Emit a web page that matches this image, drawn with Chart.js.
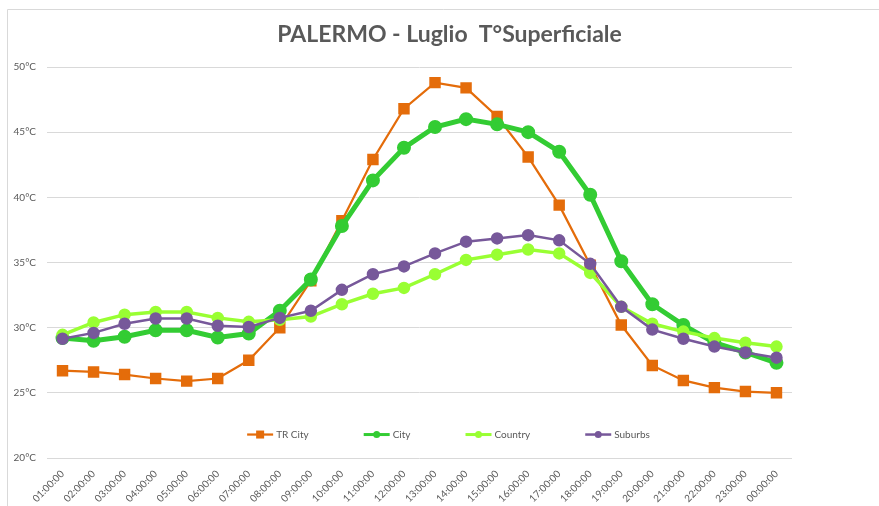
<!DOCTYPE html>
<html>
<head>
<meta charset="utf-8">
<script src="https://cdn.jsdelivr.net/npm/chart.js@4"></script>
<style>
  body { margin: 0; background: #fff; }
</style>
</head>
<body>
<canvas id="myChart" width="879" height="506"></canvas>
<script>
// ore del giorno
const ore = ['01:00:00','02:00:00','03:00:00','04:00:00','05:00:00','06:00:00','07:00:00','08:00:00',
  '09:00:00','10:00:00','11:00:00','12:00:00','13:00:00','14:00:00','15:00:00','16:00:00',
  '17:00:00','18:00:00','19:00:00','20:00:00','21:00:00','22:00:00','23:00:00','00:00:00'];

const trCity = [26.7, 26.6, 26.4, 26.1, 25.9, 26.1, 27.5, 30.0, 33.6, 38.2, 42.9, 46.8,
  48.8, 48.4, 46.2, 43.1, 39.4, 34.8, 30.2, 27.1, 25.95, 25.4, 25.1, 25.0];
const city = [29.2, 29.0, 29.3, 29.8, 29.8, 29.25, 29.55, 31.3, 33.7, 37.8, 41.3, 43.8,
  45.4, 46.0, 45.6, 45.0, 43.5, 40.2, 35.1, 31.8, 30.2, 28.85, 28.1, 27.3];
const country = [29.45, 30.4, 31.0, 31.2, 31.2, 30.75, 30.45, 30.6, 30.85, 31.8, 32.6, 33.05,
  34.1, 35.2, 35.6, 36.0, 35.7, 34.2, 31.6, 30.3, 29.7, 29.2, 28.85, 28.55];
const suburbs = [29.15, 29.6, 30.3, 30.7, 30.7, 30.15, 30.05, 30.75, 31.3, 32.9, 34.1, 34.7,
  35.7, 36.6, 36.85, 37.1, 36.7, 34.9, 31.6, 29.85, 29.15, 28.55, 28.1, 27.7];

const yTicks = [20, 25, 30, 35, 40, 45, 50];

const titolo = 'PALERMO - Luglio  T°Superficiale';
const grigio = '#595959';

// titolo centrato sulla cornice intera
const titoloPlugin = {
  id: 'titoloPlugin',
  afterDraw(chart) {
    const ctx = chart.ctx;
    ctx.save();
    ctx.font = 'bold 23px Lato';
    ctx.fillStyle = grigio;
    ctx.textAlign = 'center';
    ctx.textBaseline = 'middle';
    ctx.fillText(titolo, chart.width / 2 + 10, 35);
    ctx.restore();
  }
};

// legenda disegnata dentro l'area del grafico, come in Excel
const legendaSotto = {
  id: 'legendaSotto',
  afterDraw(chart) {
    const ctx = chart.ctx;
    const sets = chart.data.datasets;
    const y = chart.scales.y.getPixelForValue(21.8);
    ctx.save();
    ctx.font = '10px Lato';
    ctx.textBaseline = 'middle';
    const gap = 55, lineLen = 26;
    let total = 0;
    sets.forEach(ds => { total += lineLen + 3 + ctx.measureText(ds.label).width + gap; });
    total -= gap;
    let x = chart.width / 2 + 9 - total / 2;
    sets.forEach(ds => {
      ctx.strokeStyle = ds.borderColor;
      ctx.lineWidth = Math.min(ds.borderWidth, 3);
      ctx.beginPath();
      ctx.moveTo(x, y);
      ctx.lineTo(x + lineLen, y);
      ctx.stroke();
      ctx.fillStyle = ds.borderColor;
      const cx = x + lineLen / 2;
      if (ds.pointStyle === 'rect') {
        ctx.fillRect(cx - 4, y - 4, 8, 8);
      } else {
        ctx.beginPath();
        ctx.arc(cx, y, 3.5, 0, Math.PI * 2);
        ctx.fill();
      }
      ctx.fillStyle = grigio;
      ctx.fillText(ds.label, x + lineLen + 3, y);
      x += lineLen + 3 + ctx.measureText(ds.label).width + gap;
    });
    ctx.restore();
  }
};

// cornice grigia (sinistra e sopra)
const cornice = {
  id: 'cornice',
  beforeDraw(chart) {
    const ctx = chart.ctx;
    ctx.save();
    ctx.strokeStyle = '#d9d9d9';
    ctx.lineWidth = 1;
    ctx.beginPath();
    ctx.moveTo(7.5, chart.height);
    ctx.lineTo(7.5, 9.5);
    ctx.lineTo(chart.width, 9.5);
    ctx.stroke();
    ctx.restore();
  }
};

const ctx = document.getElementById('myChart');

new Chart(ctx, {
  type: 'line',
  data: {
    labels: ore,
    datasets: [
      {
        label: 'TR City',
        data: trCity,
        borderColor: '#E46C0A',
        backgroundColor: '#E46C0A',
        borderWidth: 2.25,
        pointStyle: 'rect',
        pointRadius: 6.5,
        order: 4
      },
      {
        label: 'City',
        data: city,
        borderColor: '#33CC33',
        backgroundColor: '#33CC33',
        borderWidth: 5,
        pointStyle: 'circle',
        pointRadius: 4.5,
        order: 3
      },
      {
        label: 'Country',
        data: country,
        borderColor: '#99FF33',
        backgroundColor: '#99FF33',
        borderWidth: 3.5,
        pointStyle: 'circle',
        pointRadius: 4.5,
        order: 2
      },
      {
        label: 'Suburbs',
        data: suburbs,
        borderColor: '#77589A',
        backgroundColor: '#77589A',
        borderWidth: 2.5,
        pointStyle: 'circle',
        pointRadius: 5,
        order: 1
      }
    ]
  },
  options: {
    responsive: false,
    animation: false,
    layout: { padding: { left: 0, right: 87, top: 67, bottom: 0 } },
    plugins: {
      legend: { display: false },
      tooltip: { enabled: false },
      title: { display: false }
    },
    scales: {
      x: {
        offset: true,
        grid: { display: false },
        border: { display: false },
        ticks: {
          color: grigio,
          font: { family: 'Lato', size: 10 },
          maxRotation: 45,
          minRotation: 45,
          autoSkip: false,
          padding: 2
        },
        afterFit: s => { s.height = 48; }
      },
      y: {
        min: 20,
        max: 50,
        afterBuildTicks: s => { s.ticks = yTicks.map(v => ({ value: v })); },
        grid: { color: '#d9d9d9', drawTicks: false },
        border: { display: false },
        ticks: {
          color: grigio,
          font: { family: 'Lato', size: 10 },
          padding: 11,
          callback: v => v + '°C'
        },
        afterFit: s => { s.width = 47; }
      }
    }
  },
  plugins: [cornice, titoloPlugin, legendaSotto]
});
</script>
</body>
</html>
